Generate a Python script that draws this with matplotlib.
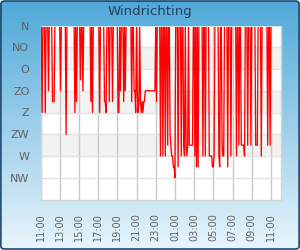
import numpy as np
import pandas as pd
import matplotlib
matplotlib.use("Agg")
import matplotlib.pyplot as plt
import matplotlib.dates as mdates
from matplotlib.colors import LinearSegmentedColormap
from matplotlib.patches import FancyBboxPatch, Rectangle

TITLE = "Windrichting"
DIRECTION_LABELS = ["N", "NO", "O", "ZO", "Z", "ZW", "W", "NW"]
DIRECTION_DEGREES = [0, 45, 90, 135, 180, 225, 270, 315]
BAND_RANGES = [(45, 90), (135, 180), (225, 270)]
START = "2012-06-01 11:00"
VIEW_END = "2012-06-02 12:00"
STEP = "5min"

# wind direction (degrees), 5-minute samples, one row per hour starting 11:00
wind_dir = [
    [0, 0, 180, 0, 0, 0, 180, 0, 0, 0, 135, 0],
    [0, 0, 0, 157.5, 157.5, 157.5, 0, 0, 0, 0, 0, 0],
    [0, 135, 0, 0, 0, 0, 0, 0, 225, 0, 0, 0],
    [0, 0, 0, 0, 0, 0, 0, 180, 0, 157.5, 0, 0],
    [0, 0, 112.5, 0, 0, 135, 0, 0, 0, 0, 0, 0],
    [0, 0, 0, 157.5, 0, 180, 0, 0, 0, 0, 0, 0],
    [0, 0, 180, 0, 0, 0, 0, 0, 157.5, 157.5, 180, 0],
    [0, 0, 157.5, 0, 0, 0, 157.5, 0, 0, 0, 0, 0],
    [0, 180, 180, 0, 135, 0, 0, 0, 157.5, 0, 135, 0],
    [0, 0, 0, 0, 0, 0, 157.5, 0, 0, 135, 135, 180],
    [0, 135, 180, 157.5, 0, 157.5, 180, 157.5, 180, 157.5, 157.5, 135],
    [135, 135, 135, 135, 135, 135, 135, 135, 135, 135, 135, 135],
    [0, 157.5, 0, 0, 0, 0, 270, 0, 0, 270, 0, 0],
    [270, 0, 0, 247.5, 0, 0, 225, 247.5, 270, 270, 292.5, 292.5],
    [315, 0, 0, 0, 292.5, 0, 0, 0, 270, 0, 0, 247.5],
    [270, 0, 247.5, 270, 247.5, 0, 247.5, 247.5, 247.5, 247.5, 247.5, 0],
    [0, 270, 0, 292.5, 0, 292.5, 0, 0, 0, 0, 0, 270],
    [0, 0, 270, 0, 0, 0, 0, 270, 270, 270, 270, 292.5],
    [292.5, 270, 0, 0, 0, 0, 0, 270, 292.5, 0, 0, 247.5],
    [270, 270, 0, 0, 0, 0, 292.5, 0, 0, 0, 270, 0],
    [0, 0, 0, 0, 0, 270, 0, 0, 247.5, 0, 0, 247.5],
    [247.5, 247.5, 247.5, 270, 0, 0, 0, 247.5, 0, 0, 0, 247.5],
    [0, 0, 0, 0, 0, 247.5, 247.5, 247.5, 0, 0, 0, 0],
    [270, 0, 0, 0, 0, 0, 0, 0, 247.5, 0, 0, 247.5],
    [0],
]

values = np.concatenate([np.asarray(r, dtype=float) for r in wind_dir])
times = pd.date_range(START, periods=len(values), freq=STEP)

W, H = 300, 250
fig = plt.figure(figsize=(W / 100, H / 100), dpi=100)
fig.patch.set_facecolor("white")

# background gradient with rounded dark border
bg = fig.add_axes([0, 0, 1, 1], zorder=-10)
bg.set_axis_off()
bg.set_xlim(0, 1)
bg.set_ylim(0, 1)
cmap = LinearSegmentedColormap.from_list("bg", ["#4fa8d9", "#e9f5fc"])
grad = np.linspace(0, 1, 256)[:, None]
im = bg.imshow(grad, aspect="auto", cmap=cmap, extent=[0, 1, 0, 1], origin="upper")
frame = FancyBboxPatch((0.003, 0.004), 0.994, 0.992,
                       boxstyle="round,pad=0,rounding_size=0.012",
                       transform=bg.transAxes, fc="none", ec="#0c3a66", lw=1.1)
bg.add_patch(frame)
im.set_clip_path(frame)

fig.text(0.5, 1 - 11.5 / H, TITLE, ha="center", va="center",
         fontsize=9.5, color="#253f5c")

ax = fig.add_axes([40.5 / W, 1 - 199.5 / H, 240 / W, 174 / H])
ax.set_facecolor("white")
for lo, hi in BAND_RANGES:
    ax.axhspan(lo, hi, color="#f2f2f2", lw=0, zorder=0)

ln, = ax.plot(times, values, color="#ff0000", lw=0.95, zorder=3)
ln.set_clip_path(Rectangle((0, 0), 1, 1 - 1.2 / 174, transform=ax.transAxes))

ax.set_ylim(360, 0)
ax.set_xlim(pd.Timestamp(START), pd.Timestamp(VIEW_END))
ax.set_yticks(DIRECTION_DEGREES, DIRECTION_LABELS)
ax.xaxis.set_major_locator(mdates.HourLocator(byhour=range(1, 24, 2)))
ax.xaxis.set_major_formatter(mdates.DateFormatter("%H:%M"))
ax.tick_params(axis="y", length=0, pad=8, labelsize=8, labelcolor="#606060")
ax.tick_params(axis="x", length=0, pad=10, labelsize=7, labelrotation=90,
               labelcolor="#606060")
ax.set_axisbelow(True)
ax.grid(axis="x", color="#c8c8c8", lw=1)
ax.grid(axis="y", color="#e2e2e2", lw=1)
ax.spines["top"].set_visible(False)
for s in ("left", "bottom", "right"):
    ax.spines[s].set_color("#d4d4d4")
    ax.spines[s].set_linewidth(1)

fig.savefig("out.png", dpi=100)
